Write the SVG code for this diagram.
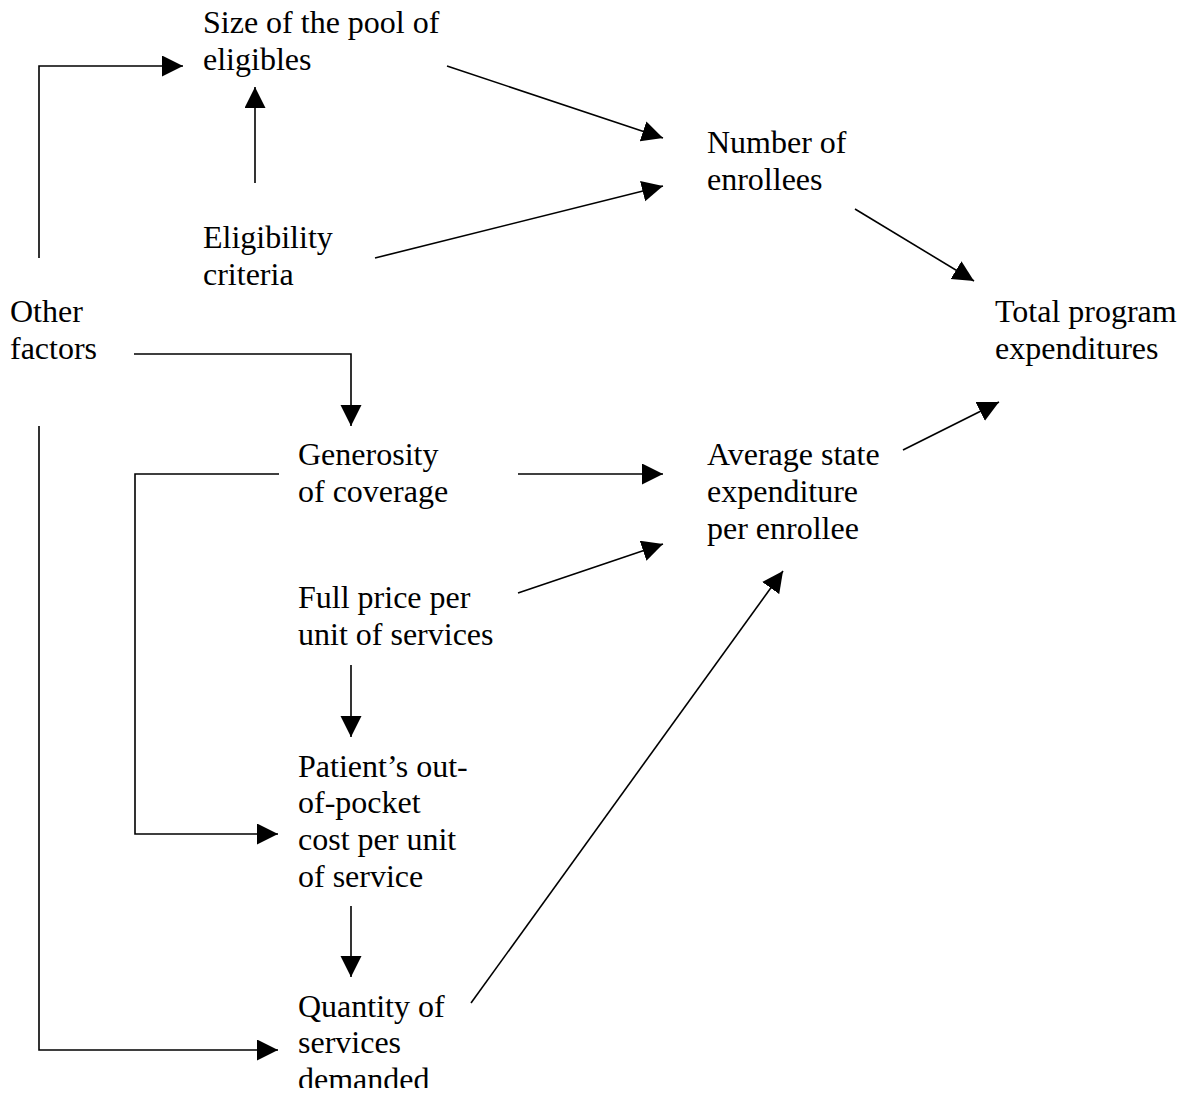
<svg xmlns="http://www.w3.org/2000/svg" width="1191" height="1096" viewBox="0 0 1191 1096">
<style>
text { font-family: "Liberation Serif", "Times New Roman", serif; font-size: 32px; fill: #000; }
.c { fill: none; stroke: #000; stroke-width: 1.6; }
</style>
<defs>
<marker id="ah" markerUnits="userSpaceOnUse" markerWidth="22" markerHeight="22" refX="21" refY="10.5" orient="auto" viewBox="0 0 22 22">
<path d="M0,0 L21,10.5 L0,21 z" fill="#000"/>
</marker>
<clipPath id="pageclip"><rect x="0" y="0" width="1191" height="1088"/></clipPath>
</defs>
<rect width="1191" height="1096" fill="#fff"/>
<g id="connectors">
<polyline class="c" points="39,258 39,66 183,66" marker-end="url(#ah)"/>
<line class="c" x1="255" y1="183" x2="255" y2="87" marker-end="url(#ah)"/>
<line class="c" x1="447" y1="66" x2="663" y2="138" marker-end="url(#ah)"/>
<line class="c" x1="375" y1="258" x2="663" y2="186" marker-end="url(#ah)"/>
<line class="c" x1="855" y1="209" x2="974" y2="281" marker-end="url(#ah)"/>
<polyline class="c" points="134,354 351,354 351,426" marker-end="url(#ah)"/>
<polyline class="c" points="39,426 39,1050 278,1050" marker-end="url(#ah)"/>
<polyline class="c" points="279,474 135,474 135,834 278,834" marker-end="url(#ah)"/>
<line class="c" x1="518" y1="474" x2="663" y2="474" marker-end="url(#ah)"/>
<line class="c" x1="518" y1="593" x2="663" y2="544" marker-end="url(#ah)"/>
<line class="c" x1="351" y1="665" x2="351" y2="737" marker-end="url(#ah)"/>
<line class="c" x1="351" y1="906" x2="351" y2="977" marker-end="url(#ah)"/>
<line class="c" x1="471" y1="1003" x2="783" y2="571" marker-end="url(#ah)"/>
<line class="c" x1="903" y1="450" x2="999" y2="402" marker-end="url(#ah)"/>
</g>
<g id="node-size-pool"><text x="203" y="33">Size of the pool of</text><text x="203" y="70">eligibles</text></g>
<g id="node-eligibility"><text x="203" y="248">Eligibility</text><text x="203" y="285">criteria</text></g>
<g id="node-number"><text x="707" y="153">Number of</text><text x="707" y="190">enrollees</text></g>
<g id="node-other"><text x="10" y="322">Other</text><text x="10" y="359">factors</text></g>
<g id="node-total"><text x="995" y="322">Total program</text><text x="995" y="359">expenditures</text></g>
<g id="node-generosity"><text x="298" y="465">Generosity</text><text x="298" y="502">of coverage</text></g>
<g id="node-average"><text x="707" y="465">Average state</text><text x="707" y="502">expenditure</text><text x="707" y="539">per enrollee</text></g>
<g id="node-fullprice"><text x="298" y="608">Full price per</text><text x="298" y="645">unit of services</text></g>
<g id="node-patient"><text x="298" y="777">Patient’s out-</text><text x="298" y="813">of-pocket</text><text x="298" y="850">cost per unit</text><text x="298" y="887">of service</text></g>
<g id="node-quantity" clip-path="url(#pageclip)"><text x="298" y="1017">Quantity of</text><text x="298" y="1053">services</text><text x="298" y="1090">demanded</text></g>
</svg>
